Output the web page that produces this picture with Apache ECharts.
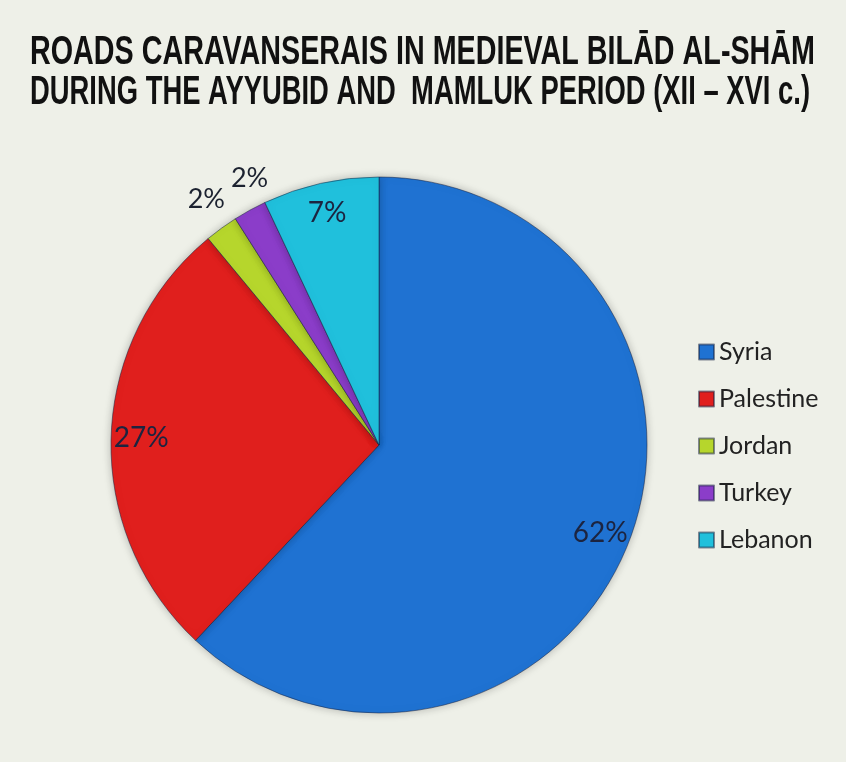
<!DOCTYPE html>
<html>
<head>
<meta charset="utf-8">
<script src="https://cdn.jsdelivr.net/npm/echarts@6/dist/echarts.min.js"></script>
<style>
  html, body { margin: 0; padding: 0; background: #eef0e8; }
  #main { width: 846px; height: 762px; }
</style>
</head>
<body>
<div id="main"></div>
<script>
// 数据
const countries = ['Syria', 'Palestine', 'Jordan', 'Turkey', 'Lebanon']
const shares = [62, 27, 2, 2, 7]
const sliceColors = ['#1f72d2', '#e01f1d', '#b6d62c', '#8b3dc9', '#20c0dc']
// small slices get their label outside the pie
const outsideLabel = [false, false, true, true, false]
const titleLines = [
  'ROADS CARAVANSERAIS IN MEDIEVAL BILĀD AL-SHĀM',
  'DURING THE AYYUBID AND  MAMLUK PERIOD (XII – XVI c.)'
]

const myChart = echarts.init(document.getElementById('main'))

// the title font is a condensed bold face: squeeze Liberation Sans to the width
const titleFont = 'bold 40px "Liberation Sans", Arial, sans-serif'
const ctx = document.createElement('canvas').getContext('2d')
ctx.font = titleFont
const titleWidths = [785, 780]
const titleGraphics = titleLines.map((line, i) => ({
  type: 'text',
  x: 30,
  y: 53 + i * 40,
  scaleX: titleWidths[i] / ctx.measureText(line).width,
  style: {
    text: line,
    x: 0,
    y: 0,
    font: titleFont,
    fill: '#111',
    verticalAlign: 'middle'
  }
}))

// small nudges so the two 2% labels don't sit on top of each other
const labelNudge = { Jordan: [6, 0], Turkey: [17, 0] }

const pieData = countries.map((name, i) => ({
  name: name,
  value: shares[i],
  itemStyle: { color: sliceColors[i] }
}))

// transparent rings only used to place the labels
const innerRing = countries.map((name, i) => ({
  name: name,
  value: shares[i],
  label: { show: !outsideLabel[i] }
}))
const outerRing = countries.map((name, i) => ({
  name: name,
  value: shares[i],
  label: { show: outsideLabel[i], offset: labelNudge[name] || [0, 0] }
}))

const ringLabel = {
  position: 'inside',
  formatter: '{c}%',
  fontFamily: 'Lato, "Open Sans", sans-serif',
  fontSize: 28,
  color: '#1c2440'
}

myChart.setOption({
  backgroundColor: '#eef0e8',
  graphic: titleGraphics,
  legend: {
    orient: 'vertical',
    left: 693,
    top: 332,
    itemWidth: 15,
    itemHeight: 15,
    itemGap: 17,
    icon: 'rect',
    data: countries,
    textStyle: {
      fontFamily: 'Lato, "Open Sans", sans-serif',
      fontSize: 25,
      lineHeight: 30,
      color: '#222'
    }
  },
  series: [
    {
      type: 'pie',
      center: [379, 445],
      radius: 268,
      startAngle: 90,
      clockwise: true,
      animation: false,
      data: pieData,
      itemStyle: {
        borderColor: 'rgba(20, 30, 60, 0.5)',
        borderWidth: 1,
        shadowBlur: 8,
        shadowColor: 'rgba(0, 0, 0, 0.25)'
      },
      label: { show: false },
      labelLine: { show: false }
    },
    {
      type: 'pie',
      center: [379, 445],
      radius: [202, 268],
      startAngle: 90,
      silent: true,
      animation: false,
      legendHoverLink: false,
      avoidLabelOverlap: false,
      data: innerRing,
      itemStyle: { color: 'rgba(0,0,0,0)' },
      label: ringLabel,
      labelLine: { show: false },
      labelLayout: { hideOverlap: false }
    },
    {
      type: 'pie',
      center: [379, 445],
      radius: [286, 316],
      startAngle: 90,
      silent: true,
      animation: false,
      legendHoverLink: false,
      avoidLabelOverlap: false,
      data: outerRing,
      itemStyle: { color: 'rgba(0,0,0,0)' },
      label: Object.assign({}, ringLabel, { fontSize: 27, color: '#1c2230' }),
      labelLine: { show: false },
      labelLayout: { hideOverlap: false }
    }
  ]
})
</script>
</body>
</html>
